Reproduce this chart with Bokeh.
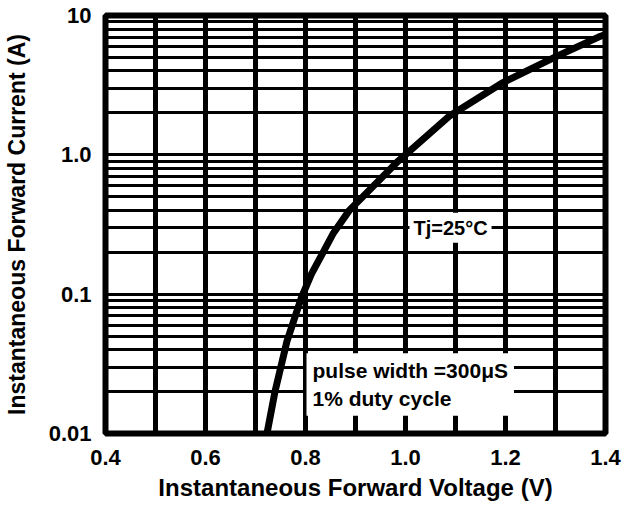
from bokeh.plotting import figure
from bokeh.models import Range1d, FixedTicker, Label
from bokeh.embed import file_html
from bokeh.resources import INLINE

# ---- data ----
vf = [0.723, 0.739, 0.763, 0.778, 0.792, 0.812, 0.832, 0.856, 0.888, 0.986, 1.087, 1.195, 1.300, 1.386, 1.4]
i_f = [0.010, 0.020, 0.046, 0.067, 0.095, 0.140, 0.190, 0.275, 0.401, 0.906, 1.89, 3.30, 5.04, 7.0, 7.3]

x_ticks = [0.4, 0.6, 0.8, 1.0, 1.2, 1.4]
x_tick_labels = ["0.4", "0.6", "0.8", "1.0", "1.2", "1.4"]
y_ticks = [0.01, 0.1, 1.0, 10]
y_tick_labels = ["0.01", "0.1", "1.0", "10"]
x_grid = [0.4, 0.5, 0.6, 0.7, 0.8, 0.9, 1.0, 1.1, 1.2, 1.3, 1.4]
y_grid = [m * 10.0 ** e for e in (-2, -1, 0) for m in range(1, 10)] + [10.0]

FONT = "Liberation Sans"

p = figure(width=635, height=505, output_backend="svg", toolbar_location=None,
           x_range=Range1d(0.4, 1.4), y_range=Range1d(0.01, 10), y_axis_type="log",
           min_border_left=103, min_border_right=30, min_border_top=15, min_border_bottom=72)
p.background_fill_color = "white"
p.border_fill_color = "white"
p.outline_line_color = "black"
p.outline_line_width = 6

# grids
p.xgrid.ticker = FixedTicker(ticks=x_grid)
p.ygrid.ticker = FixedTicker(ticks=y_grid)
p.xgrid.grid_line_color = "black"
p.xgrid.grid_line_width = 5
p.xgrid.grid_line_alpha = 1
p.ygrid.grid_line_color = "black"
p.ygrid.grid_line_width = 3
p.ygrid.grid_line_alpha = 1

# axes
p.xaxis.ticker = FixedTicker(ticks=x_ticks)
p.xaxis.major_label_overrides = {v: t for v, t in zip(x_ticks, x_tick_labels)}
p.yaxis.ticker = FixedTicker(ticks=y_ticks)
p.yaxis.major_label_overrides = {v: t for v, t in zip(y_ticks, y_tick_labels)}
for ax in (p.xaxis[0], p.yaxis[0]):
    ax.axis_line_color = None
    ax.major_tick_line_color = None
    ax.minor_tick_line_color = None
    ax.major_label_text_font = FONT
    ax.major_label_text_font_style = "bold"
    ax.major_label_text_font_size = "22px"
    ax.major_label_text_color = "black"
    ax.axis_label_text_font = FONT
    ax.axis_label_text_font_style = "bold"
    ax.axis_label_text_color = "black"
p.xaxis.axis_label_text_font_size = "24px"
p.yaxis.axis_label_text_font_size = "23px"
p.xaxis.axis_label = "Instantaneous Forward Voltage (V)"
p.yaxis.axis_label = "Instantaneous Forward Current (A)"
p.xaxis.major_label_standoff = 10
p.xaxis.axis_label_standoff = 6
p.yaxis.major_label_standoff = 8
p.yaxis.axis_label_standoff = 16

# curve
p.line(vf, i_f, line_color="black", line_width=7, line_join="round", line_cap="round")

# annotations
p.add_layout(Label(x=1.09, y=0.3, text="Tj=25°C", text_align="center", text_baseline="middle",
                   text_color="black", text_font=FONT, text_font_style="bold", text_font_size="20px",
                   background_fill_color="white", padding=4))
p.add_layout(Label(x=0.802, y=0.0225, text="pulse width =300μS\n1% duty cycle",
                   text_align="left", text_baseline="middle", text_color="black",
                   text_font=FONT, text_font_style="bold", text_font_size="21px",
                   background_fill_color="white", padding=6))

open("out.html", "w").write(file_html(p, INLINE))
